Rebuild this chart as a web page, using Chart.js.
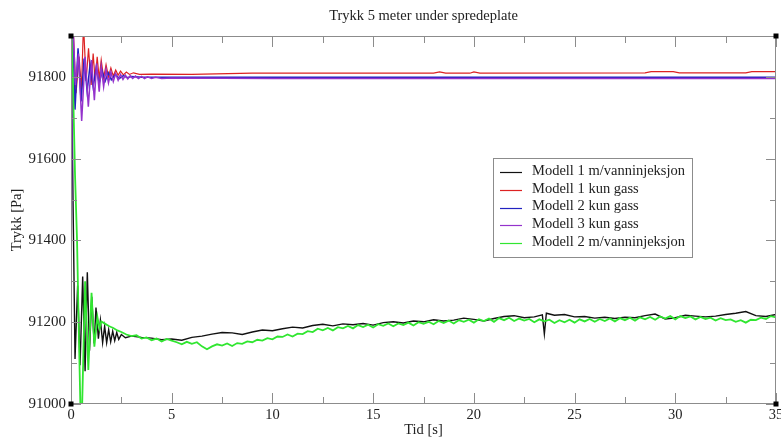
<!DOCTYPE html>
<html lang="no">
<head>
<meta charset="UTF-8">
<title>Trykk 5 meter under spredeplate</title>
<script src="https://cdn.jsdelivr.net/npm/chart.js@4"></script>
<style>
  html, body { margin: 0; padding: 0; background: #fff; }
  canvas { display: block; }
</style>
</head>
<body>
<canvas id="chart" width="781" height="437"></canvas>
<script>
// series data (time in s, pressure in Pa)
const seriesLabels = [
  "Modell 1 m/vanninjeksjon",
  "Modell 1 kun gass",
  "Modell 2 kun gass",
  "Modell 3 kun gass",
  "Modell 2 m/vanninjeksjon"
];

const xTicksLabelled = [0, 5, 10, 15, 20, 25, 30, 35];
const yTicksLabelled = [91000, 91200, 91400, 91600, 91800];

const blackTime = [0, 0.1, 0.2, 0.33, 0.45, 0.58, 0.7, 0.81, 0.92, 1.03, 1.15, 1.24, 1.36, 1.46, 1.57, 1.67,
  1.77, 1.87, 1.97, 2.07, 2.17, 2.27, 2.37, 2.5, 2.7, 3.0, 3.5, 4.0, 4.5, 5.0, 5.5, 6.0, 6.5, 7.0, 7.5, 8.0,
  8.5, 9.0, 9.5, 10.0, 10.5, 11.0, 11.5, 12.0, 12.5, 13.0, 13.5, 14.0, 14.5, 15.0, 15.5, 16.0, 16.5, 17.0,
  17.5, 18.0, 18.5, 19.0, 19.5, 20.0, 20.5, 21.0, 21.5, 22.0, 22.5, 23.0, 23.4, 23.5, 23.6, 24.0, 24.5, 25.0,
  25.5, 26.0, 26.5, 27.0, 27.5, 28.0, 28.5, 29.0, 29.5, 30.0, 30.5, 31.0, 31.5, 32.0, 32.5, 33.0, 33.5, 34.0,
  34.5, 35.0];
const blackPa = [91950, 91500, 91110, 91290, 91095, 91312, 91080, 91322, 91130, 91262, 91148, 91236, 91160,
  91205, 91150, 91190, 91150, 91182, 91152, 91178, 91155, 91175, 91158, 91170, 91162, 91166, 91163, 91161,
  91157, 91159, 91156, 91163, 91166, 91171, 91175, 91174, 91170, 91176, 91181, 91179, 91184, 91188, 91186,
  91192, 91195, 91191, 91196, 91194, 91197, 91193, 91199, 91201, 91198, 91203, 91201, 91206, 91203, 91205,
  91210, 91207, 91203, 91209, 91214, 91216, 91211, 91213, 91218, 91171, 91222, 91217, 91219, 91213, 91214,
  91210, 91212, 91209, 91212, 91211, 91216, 91220, 91208, 91211, 91217, 91215, 91213, 91215, 91219, 91222,
  91226, 91216, 91214, 91219];

const redTime = [0, 0.08, 0.25, 0.4, 0.52, 0.62, 0.75, 0.87, 1.0, 1.1, 1.2, 1.3, 1.4, 1.5, 1.62, 1.74, 1.86,
  1.98, 2.1, 2.22, 2.34, 2.46, 2.6, 2.75, 2.9, 3.1, 3.4, 4.0, 6.0, 9.0, 12.0, 18.0, 18.3, 18.6, 19.8, 20.0,
  20.3, 28.5, 28.8, 29.9, 30.2, 33.5, 33.8, 35.0];
const redPa = [91500, 91950, 91760, 91850, 91770, 91930, 91790, 91870, 91780, 91857, 91790, 91849, 91795,
  91841, 91797, 91830, 91800, 91822, 91802, 91817, 91804, 91814, 91805, 91812, 91806, 91810, 91806, 91807,
  91806, 91809, 91809, 91809, 91812, 91809, 91809, 91812, 91809, 91810, 91813, 91813, 91810, 91810, 91813,
  91813];

const blueTime = [0, 0.06, 0.2, 0.35, 0.5, 0.65, 0.8, 0.95, 1.1, 1.25, 1.4, 1.55, 1.7, 1.85, 2.0, 2.2, 2.4,
  2.6, 2.8, 3.0, 3.5, 35.0];
const bluePa = [91310, 91950, 91720, 91870, 91740, 91845, 91765, 91830, 91775, 91822, 91785, 91814, 91790,
  91810, 91793, 91806, 91796, 91803, 91798, 91801, 91799, 91799];

const purpleTime = [0, 0.08, 0.22, 0.37, 0.53, 0.7, 0.86, 1.02, 1.16, 1.27, 1.4, 1.5, 1.62, 1.74, 1.86, 1.98,
  2.1, 2.22, 2.34, 2.46, 2.58, 2.7, 2.82, 2.94, 3.06, 3.2, 3.35, 3.5, 3.65, 3.8, 4.0, 4.2, 4.5, 5.0, 10.0,
  20.0, 35.0];
const purplePa = [91300, 91950, 91780, 91857, 91692, 91849, 91727, 91841, 91743, 91833, 91764, 91825, 91776,
  91818, 91785, 91812, 91789, 91808, 91792, 91806, 91794, 91804, 91795, 91803, 91796, 91802, 91796, 91801,
  91796, 91800, 91796, 91799, 91796, 91797, 91796, 91796, 91796];

const greenTime = [0, 0.1, 0.2, 0.3, 0.4, 0.48, 0.55, 0.7, 0.86, 1.02, 1.16, 1.31, 1.42, 1.5, 1.7, 1.9, 2.1,
  2.3, 2.5, 2.75, 3.0,
  3.25, 3.5, 3.75, 4.0, 4.25, 4.5, 4.75, 5.0, 5.25, 5.5, 5.75, 6.0, 6.25, 6.5, 6.75, 7.0, 7.25, 7.5, 7.75,
  8.0, 8.25, 8.5, 8.75, 9.0, 9.25, 9.5, 9.75, 10.0, 10.25, 10.5, 10.75, 11.0, 11.25, 11.5, 11.75, 12.0,
  12.25, 12.5, 12.75, 13.0, 13.25, 13.5, 13.75, 14.0, 14.25, 14.5, 14.75, 15.0, 15.25, 15.5, 15.75, 16.0,
  16.25, 16.5, 16.75, 17.0, 17.25, 17.5, 17.75, 18.0, 18.25, 18.5, 18.75, 19.0, 19.25, 19.5, 19.75, 20.0,
  20.25, 20.5, 20.75, 21.0, 21.25, 21.5, 21.75, 22.0, 22.25, 22.5, 22.75, 23.0, 23.25, 23.5, 23.75, 24.0,
  24.25, 24.5, 24.75, 25.0, 25.25, 25.5, 25.75, 26.0, 26.25, 26.5, 26.75, 27.0, 27.25, 27.5, 27.75, 28.0,
  28.25, 28.5, 28.75, 29.0, 29.25, 29.5, 29.75, 30.0, 30.25, 30.5, 30.75, 31.0, 31.25, 31.5, 31.75, 32.0,
  32.25, 32.5, 32.75, 33.0, 33.25, 33.5, 33.75, 34.0, 34.25, 34.5, 34.75, 35.0];
const greenPa = [91950, 91780, 91560, 91400, 91150, 90960, 90990, 91300, 91083, 91272, 91140, 91213, 91185,
  91202, 91196, 91190, 91186, 91180, 91176, 91170, 91166,
  91168, 91160, 91163, 91156, 91160, 91153, 91159, 91155, 91151, 91146, 91152, 91147, 91151, 91141, 91134,
  91141, 91146, 91143, 91148, 91142, 91149, 91147, 91153, 91151, 91157, 91155, 91161, 91158, 91165, 91164,
  91170, 91165, 91172, 91171, 91178, 91176, 91184, 91180, 91186, 91180, 91188, 91185, 91191, 91185, 91193,
  91188, 91194, 91187, 91195, 91191, 91197, 91190, 91197, 91193, 91199, 91192, 91200, 91196, 91201, 91195,
  91203, 91198, 91204, 91197, 91205, 91201, 91206, 91199, 91207, 91203, 91209, 91201, 91210, 91205, 91211,
  91203, 91209, 91204, 91208, 91200, 91207, 91202, 91206, 91198, 91205, 91200, 91206, 91199, 91207, 91202,
  91208, 91201, 91208, 91203, 91209, 91202, 91210, 91205, 91211, 91204, 91212, 91207, 91213, 91206, 91214,
  91209, 91215, 91207, 91215, 91210, 91214, 91207, 91213, 91208, 91211, 91204, 91210, 91205, 91207, 91201,
  91205, 91199, 91206, 91205, 91211, 91208, 91215, 91212];

const SERIF = "'Liberation Serif', 'DejaVu Serif', serif";

function toPoints(xs, ys) {
  return xs.map((x, i) => ({ x: x, y: ys[i] }));
}

const datasets = [
  { label: seriesLabels[0], data: toPoints(blackTime, blackPa), borderColor: "#111111", borderWidth: 1.4, order: 5 },
  { label: seriesLabels[1], data: toPoints(redTime, redPa), borderColor: "#dd2222", borderWidth: 1.2, order: 4 },
  { label: seriesLabels[2], data: toPoints(blueTime, bluePa), borderColor: "#2222c0", borderWidth: 1.5, order: 3 },
  { label: seriesLabels[3], data: toPoints(purpleTime, purplePa), borderColor: "#9433cc", borderWidth: 1.5, order: 2 },
  { label: seriesLabels[4], data: toPoints(greenTime, greenPa), borderColor: "#30e630", borderWidth: 1.8, order: 1 }
];
datasets.forEach(d => {
  d.showLine = true;
  d.pointRadius = 0;
  d.tension = 0;
  d.fill = false;
});

// frame, inward ticks, texts and legend drawn over the chart
const decorations = {
  id: "decorations",
  afterDraw(chart) {
    const ctx = chart.ctx;
    const a = chart.chartArea;
    const xs = chart.scales.x;
    const ys = chart.scales.y;
    ctx.save();

    ctx.strokeStyle = "#8c8c8c";
    ctx.lineWidth = 1;
    ctx.strokeRect(a.left + 0.5, a.top + 0.5, a.right - a.left - 1, a.bottom - a.top - 1);

    ctx.beginPath();
    xs.ticks.forEach(t => {
      const px = Math.round(xs.getPixelForValue(t.value)) + 0.5;
      const len = xTicksLabelled.includes(t.value) ? 11 : 7;
      ctx.moveTo(px, a.bottom); ctx.lineTo(px, a.bottom - len);
      ctx.moveTo(px, a.top); ctx.lineTo(px, a.top + len);
    });
    ys.ticks.forEach(t => {
      const py = Math.round(ys.getPixelForValue(t.value)) + 0.5;
      const len = yTicksLabelled.includes(t.value) ? 10 : 6;
      ctx.moveTo(a.left, py); ctx.lineTo(a.left + len, py);
      ctx.moveTo(a.right, py); ctx.lineTo(a.right - len, py);
    });
    ctx.stroke();

    ctx.fillStyle = "#000";
    [[a.left, a.top], [a.left, a.bottom], [a.right, a.bottom], [a.right, a.top]].forEach(p => {
      ctx.fillRect(p[0] - 2.5, p[1] - 2.5, 5, 5);
    });

    ctx.fillStyle = "#222";
    ctx.font = "14.5px " + SERIF;
    ctx.textAlign = "center";
    ctx.textBaseline = "middle";
    const cx = (a.left + a.right) / 2;
    ctx.fillText("Trykk 5 meter under spredeplate", cx, 16);
    ctx.fillText("Tid [s]", cx, 430);
    ctx.save();
    ctx.translate(17, (a.top + a.bottom) / 2);
    ctx.rotate(-Math.PI / 2);
    ctx.fillText("Trykk [Pa]", 0, 0);
    ctx.restore();

    // legend
    const lx = 493, ly = 158, lw = 199, lh = 99;
    ctx.fillStyle = "#fff";
    ctx.fillRect(lx, ly, lw, lh);
    ctx.strokeStyle = "#8c8c8c";
    ctx.strokeRect(lx + 0.5, ly + 0.5, lw, lh);
    ctx.textAlign = "left";
    chart.data.datasets.forEach((d, i) => {
      const y = 171 + i * 17.75;
      ctx.strokeStyle = d.borderColor;
      ctx.lineWidth = 1.2;
      ctx.beginPath();
      ctx.moveTo(500, Math.round(y) + 1.5);
      ctx.lineTo(522, Math.round(y) + 1.5);
      ctx.stroke();
      ctx.fillStyle = "#222";
      ctx.fillText(d.label, 532, y);
    });
    ctx.restore();
  }
};

new Chart(document.getElementById("chart").getContext("2d"), {
  type: "scatter",
  data: { datasets: datasets },
  options: {
    responsive: false,
    animation: false,
    events: [],
    layout: { padding: { top: 36, right: 5, left: 0, bottom: 0 } },
    plugins: { legend: { display: false }, title: { display: false }, tooltip: { enabled: false } },
    scales: {
      x: {
        type: "linear",
        min: 0,
        max: 35,
        grid: { display: false, drawTicks: false },
        border: { display: false },
        ticks: {
          stepSize: 2.5,
          autoSkip: false,
          maxRotation: 0,
          padding: 2,
          color: "#222",
          font: { family: SERIF, size: 14.5 },
          callback: v => (xTicksLabelled.includes(v) ? String(v) : "")
        },
        afterFit: s => { s.height = 33; s.paddingLeft = 0; s.paddingRight = 0; }
      },
      y: {
        type: "linear",
        min: 91000,
        max: 91900,
        grid: { display: false, drawTicks: false },
        border: { display: false },
        ticks: {
          stepSize: 100,
          autoSkip: false,
          padding: 5,
          color: "#222",
          font: { family: SERIF, size: 15 },
          callback: v => (yTicksLabelled.includes(v) ? String(v) : "")
        },
        afterFit: s => { s.width = 71; s.paddingTop = 0; s.paddingBottom = 0; }
      }
    }
  },
  plugins: [decorations]
});
</script>
</body>
</html>
